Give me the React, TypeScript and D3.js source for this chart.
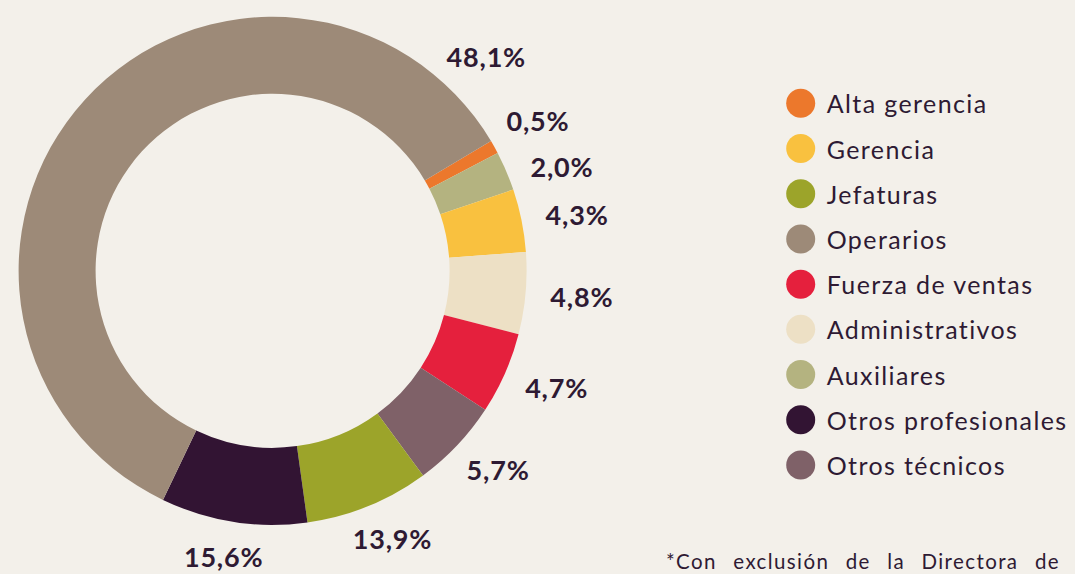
import React, { useLayoutEffect, useRef } from "react";
import * as d3 from "d3";

// Categories in drawing order (clockwise from the top-right)
const categories = [
  "Alta gerencia",
  "Auxiliares",
  "Gerencia",
  "Administrativos",
  "Fuerza de ventas",
  "Otros técnicos",
  "Jefaturas",
  "Otros profesionales",
  "Operarios",
];
// Slice sizes as drawn in the picture (share of the ring, %)
const sliceValues = [0.85, 2.5, 4.0, 5.2, 5.2, 5.7, 7.9, 9.3, 59.4];
// Printed labels
const sliceLabels = ["0,5%", "2,0%", "4,3%", "4,8%", "4,7%", "5,7%", "13,9%", "15,6%", "48,1%"];

// Legend order
const legendItems = [
  "Alta gerencia",
  "Gerencia",
  "Jefaturas",
  "Operarios",
  "Fuerza de ventas",
  "Administrativos",
  "Auxiliares",
  "Otros profesionales",
  "Otros técnicos",
];

const colorByCategory: Record<string, string> = {
  "Alta gerencia": "#EC782C",
  Gerencia: "#F9C13F",
  Jefaturas: "#9CA42A",
  Operarios: "#9D8A78",
  "Fuerza de ventas": "#E5203D",
  Administrativos: "#EDE0C5",
  Auxiliares: "#B4B380",
  "Otros profesionales": "#321433",
  "Otros técnicos": "#7F6168",
};

const footnote = "*Con exclusión de la Directora de";

const W = 1075;
const H = 574;
const BG = "#F3F0EA";
const TEXT = "#2E1A33";
const FONT = "Lato, 'Open Sans', sans-serif";

export default function App() {
  const noteRef = useRef<SVGTextElement | null>(null);
  const labelRefs = useRef<(SVGTextElement | null)[]>([]);

  const cx = 272.6;
  const cy = 270.8;
  const outerR = 254;
  const innerR = 177;
  const startDeg = 59.3;
  const labelR = 279;
  const labelH = 20;

  const pie = d3
    .pie<number>()
    .sort(null)
    .value((d) => d)
    .startAngle((startDeg * Math.PI) / 180)
    .endAngle((startDeg * Math.PI) / 180 + 2 * Math.PI);
  const arcs = pie(sliceValues);
  const arc = d3.arc<d3.PieArcDatum<number>>().innerRadius(innerR).outerRadius(outerR);

  const maxIdx = sliceValues.indexOf(d3.max(sliceValues) as number);

  // label angles: slice middles, relaxed apart so neighbours don't collide
  const minSep = (10 * Math.PI) / 180;
  const labelAngles = arcs.map((a, i) =>
    i === maxIdx ? a.endAngle - 0.3 : (a.startAngle + a.endAngle) / 2
  );
  for (let it = 0; it < 20; it++) {
    for (let i = 1; i < labelAngles.length; i++) {
      if (i === maxIdx || i - 1 === maxIdx) continue;
      const gap = labelAngles[i] - labelAngles[i - 1];
      if (gap < minSep) {
        const push = (minSep - gap) / 2;
        labelAngles[i - 1] -= push;
        labelAngles[i] += push;
      }
    }
  }

  useLayoutEffect(() => {
    document.body.style.margin = "0";
    document.body.style.background = BG;
    // place each label so its near edge sits on the label circle
    labelRefs.current.forEach((el, i) => {
      if (!el) return;
      const w = el.getComputedTextLength();
      const ang = labelAngles[i];
      const ax = labelR * Math.sin(ang);
      const ay = -labelR * Math.cos(ang);
      el.setAttribute("x", String(ax + (w / 2) * Math.sin(ang)));
      el.setAttribute("y", String(ay - (labelH / 2) * Math.cos(ang)));
    });
    // justify the footnote line between its left and right edges
    const el = noteRef.current;
    if (el) {
      el.setAttribute("word-spacing", "0");
      const natural = el.getComputedTextLength();
      const gaps = footnote.split(" ").length - 1;
      const target = 394;
      el.setAttribute("word-spacing", String(Math.max(0, (target - natural) / gaps)));
    }
  }, []);

  const legendY = d3.scalePoint<string>().domain(legendItems).range([103.3, 465]);

  return (
    <svg width={W} height={H} style={{ display: "block", background: BG }}>
      <rect x={0} y={0} width={W} height={H} fill={BG} />
      <g transform={`translate(${cx},${cy})`}>
        {arcs.map((a, i) => (
          <path key={i} d={arc(a) as string} fill={colorByCategory[categories[i]]} />
        ))}
        {arcs.map((a, i) => (
          <text
            key={"l" + i}
            ref={(el) => {
              labelRefs.current[i] = el;
            }}
            x={labelR * Math.sin(labelAngles[i])}
            y={-labelR * Math.cos(labelAngles[i])}
            textAnchor="middle"
            dominantBaseline="central"
            fontFamily={FONT}
            fontWeight={700}
            fontSize={27}
            letterSpacing={0.8}
            fill={TEXT}
          >
            {sliceLabels[i]}
          </text>
        ))}
      </g>
      <g>
        {legendItems.map((name) => (
          <g key={name} transform={`translate(800.7,${legendY(name)})`}>
            <circle r={14.5} fill={colorByCategory[name]} />
            <text
              x={26}
              y={0}
              dominantBaseline="central"
              fontFamily={FONT}
              fontSize={25}
              letterSpacing={1.4}
              fill={TEXT}
            >
              {name}
            </text>
          </g>
        ))}
      </g>
      <text
        ref={noteRef}
        x={666}
        y={569}
        fontFamily={FONT}
        fontSize={20.5}
        letterSpacing={1.4}
        fill={TEXT}
      >
        {footnote}
      </text>
    </svg>
  );
}
